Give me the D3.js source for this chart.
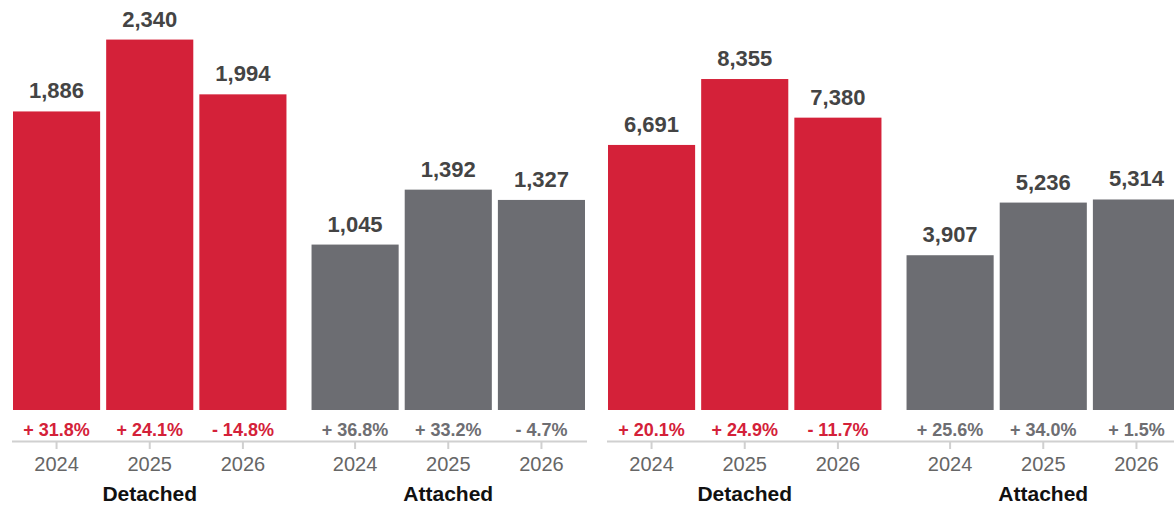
<!DOCTYPE html>
<html>
<head>
<meta charset="utf-8">
<script src="https://cdn.jsdelivr.net/npm/d3@7"></script>
<style>
  html, body { margin: 0; padding: 0; background: #fff; }
  svg { display: block; }
  text { font-family: "Helvetica Neue", Helvetica, Arial, "Liberation Sans", sans-serif; }
</style>
</head>
<body>
<svg id="chart" width="1174" height="508"></svg>
<script>
// Sales by year, split into detached and attached homes, for two markets
const years = ["2024", "2025", "2026"];
const groups = ["Detached", "Attached"];

const leftDetached = [1886, 2340, 1994];
const leftAttached = [1045, 1392, 1327];
const leftDetachedChange = [31.8, 24.1, -14.8];
const leftAttachedChange = [36.8, 33.2, -4.7];

const rightDetached = [6691, 8355, 7380];
const rightAttached = [3907, 5236, 5314];
const rightDetachedChange = [20.1, 24.9, -11.7];
const rightAttachedChange = [25.6, 34.0, 1.5];

const panels = [
  { x0: 13, lineX: [12, 587], yMax: 2590,
    series: { Detached: leftDetached, Attached: leftAttached },
    change: { Detached: leftDetachedChange, Attached: leftAttachedChange } },
  { x0: 608, lineX: [607, 1182], yMax: 10350,
    series: { Detached: rightDetached, Attached: rightAttached },
    change: { Detached: rightDetachedChange, Attached: rightAttachedChange } }
];

const colors = { Detached: "#d42139", Attached: "#6c6d72" };
const changeColors = { Detached: "#d42139", Attached: "#6e6e72" };

const baseY = 410;
const axisY = 441;
const panelW = 572;

const fmt = d3.format(",");
const fmtChange = v => (v < 0 ? "- " : "+ ") + d3.format(".1f")(Math.abs(v)) + "%";

const svg = d3.select("#chart");

panels.forEach(p => {
  const g = svg.append("g");

  const y = d3.scaleLinear().domain([0, p.yMax]).range([baseY, 0]);

  const xGroup = d3.scaleBand()
    .domain(groups)
    .range([p.x0, p.x0 + panelW])
    .paddingInner(0.084)
    .paddingOuter(0);

  const xYear = d3.scaleBand()
    .domain(years)
    .range([0, xGroup.bandwidth()])
    .paddingInner(0.065)
    .paddingOuter(0);

  // baseline under the whole panel
  g.append("line")
    .attr("x1", p.lineX[0]).attr("x2", p.lineX[1])
    .attr("y1", axisY + 0.5).attr("y2", axisY + 0.5)
    .attr("stroke", "#d0d0d0")
    .attr("stroke-width", 2);

  groups.forEach(name => {
    const vals = p.series[name];
    const chg = p.change[name];
    const data = years.map((yr, i) => ({ year: yr, value: vals[i], change: chg[i] }));
    const gg = g.append("g").attr("transform", `translate(${xGroup(name)},0)`);

    gg.selectAll("rect.bar")
      .data(data)
      .join("rect")
      .attr("class", "bar")
      .attr("x", d => xYear(d.year))
      .attr("width", xYear.bandwidth())
      .attr("y", d => y(d.value))
      .attr("height", d => baseY - y(d.value))
      .attr("fill", colors[name]);

    gg.selectAll("text.value")
      .data(data)
      .join("text")
      .attr("class", "value")
      .attr("x", d => xYear(d.year) + xYear.bandwidth() / 2)
      .attr("y", d => y(d.value) - 13)
      .attr("text-anchor", "middle")
      .attr("font-size", 22)
      .attr("font-weight", "bold")
      .attr("fill", "#444")
      .text(d => fmt(d.value));

    gg.selectAll("text.change")
      .data(data)
      .join("text")
      .attr("class", "change")
      .attr("x", d => xYear(d.year) + xYear.bandwidth() / 2)
      .attr("y", 436)
      .attr("text-anchor", "middle")
      .attr("font-size", 18)
      .attr("font-weight", "bold")
      .attr("fill", changeColors[name])
      .text(d => fmtChange(d.change));

    const axis = d3.axisBottom(xYear).tickSize(7).tickPadding(8);
    const ax = gg.append("g")
      .attr("transform", `translate(0,${axisY + 1})`)
      .call(axis);
    ax.select(".domain").remove();
    ax.selectAll(".tick line").attr("stroke", "#d0d0d0").attr("stroke-width", 2);
    ax.selectAll(".tick text")
      .attr("font-size", 20)
      .attr("font-family", null)
      .attr("fill", "#666");

    gg.append("text")
      .attr("x", xGroup.bandwidth() / 2)
      .attr("y", 501)
      .attr("text-anchor", "middle")
      .attr("font-size", 21)
      .attr("font-weight", "bold")
      .attr("fill", "#111")
      .text(name);
  });
});
</script>
</body>
</html>
